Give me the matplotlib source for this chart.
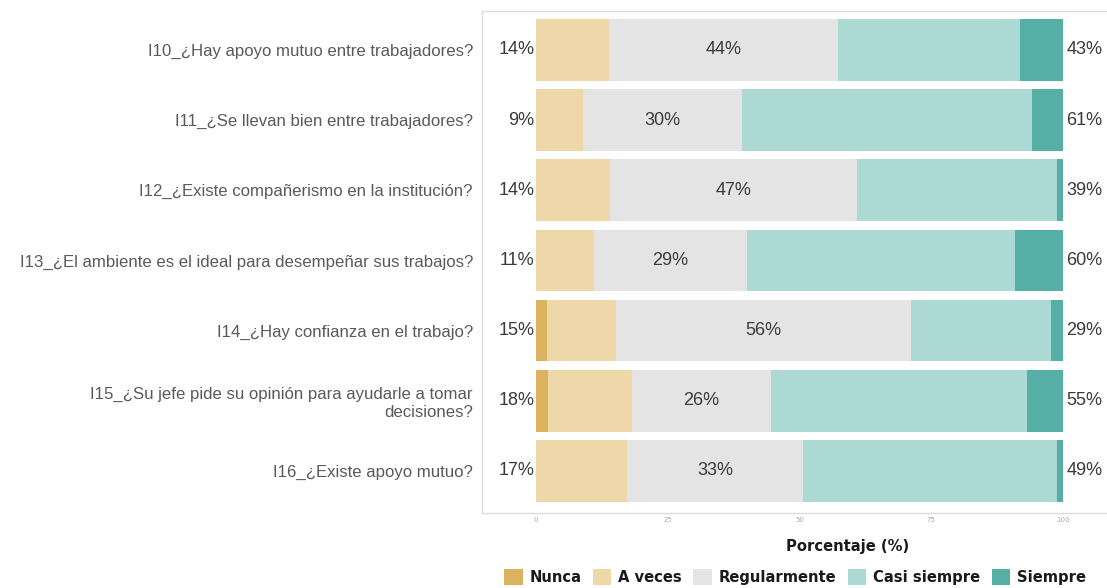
import matplotlib
matplotlib.use("Agg")
import matplotlib.pyplot as plt
from matplotlib.patches import Patch
import numpy as np

categories = [
    "I10_¿Hay apoyo mutuo entre trabajadores?",
    "I11_¿Se llevan bien entre trabajadores?",
    "I12_¿Existe compañerismo en la institución?",
    "I13_¿El ambiente es el ideal para desempeñar sus trabajos?",
    "I14_¿Hay confianza en el trabajo?",
    "I15_¿Su jefe pide su opinión para ayudarle a tomar\ndecisiones?",
    "I16_¿Existe apoyo mutuo?",
]
levels = ["Nunca", "A veces", "Regularmente", "Casi siempre", "Siempre"]
nunca        = [0.0, 0.0, 0.0, 0.0, 2.1, 2.2, 0.0]
a_veces      = [13.8, 9.0, 14.0, 11.0, 13.0, 16.0, 17.3]
regularmente = [43.6, 30.0, 47.0, 29.0, 56.0, 26.4, 33.4]
casi_siempre = [34.4, 55.2, 37.9, 50.8, 26.6, 48.5, 48.2]
siempre      = [8.2, 5.8, 1.1, 9.2, 2.3, 6.9, 1.1]
x_ticks = [0, 25, 50, 75, 100]

colors = ["#dbb35f", "#eed8aa", "#e4e4e4", "#acd9d4", "#56afa4"]

W, H = 1107, 588
fig = plt.figure(figsize=(W / 100, H / 100), dpi=100)
ax = fig.add_axes([482 / W, 1 - 513 / H, (W - 482) / W, (513 - 11) / H])

series = [nunca, a_veces, regularmente, casi_siempre, siempre]
n = len(categories)
y = np.arange(n)[::-1]
left = np.zeros(n)
for vals, col, lab in zip(series, colors, levels):
    v = np.array(vals)
    ax.barh(y, v, left=left, height=0.88, color=col, label=lab, linewidth=0)
    left += v

low = np.array(nunca) + np.array(a_veces)
mid = np.array(regularmente)
high = np.array(casi_siempre) + np.array(siempre)
tc = "#3a3a3a"
for i in range(n):
    ax.text(-0.3, y[i], f"{round(low[i])}%", ha="right", va="center",
            fontsize=13, color=tc, family="Liberation Sans")
    ax.text(low[i] + mid[i] / 2, y[i], f"{round(mid[i])}%", ha="center",
            va="center", fontsize=13, color=tc, family="Liberation Sans")
    ax.text(100.6, y[i], f"{round(high[i])}%", ha="left", va="center",
            fontsize=13, color=tc, family="Liberation Sans")

ax.set_xlim((482 - 536) / 5.27, (W - 536) / 5.27)
ax.set_ylim(-0.6, 6.555)
ax.set_yticks(y)
ax.set_yticklabels(categories, fontsize=12.05, color="#5a5a5a",
                   family="Liberation Sans", ha="right")
ax.set_xticks(x_ticks)
ax.set_xticklabels([str(t) for t in x_ticks], fontsize=5, color="#aaaaaa")
ax.tick_params(axis="y", length=0, pad=6.5)
ax.tick_params(axis="x", length=0, pad=3)
for s in ["left", "top", "bottom"]:
    ax.spines[s].set_color("#dcdcdc")
    ax.spines[s].set_linewidth(1.0)
ax.spines["right"].set_visible(False)

bold_font = {"family": "DejaVu Sans", "weight": "bold", "size": 10.6}

fig.text(848 / W, 1 - 546 / H, "Porcentaje (%)", ha="center", va="center",
         color="#1a1a1a", fontsize=10.6, fontweight="bold", family="DejaVu Sans")

handles = [Patch(facecolor=c, edgecolor="none", label=l) for c, l in zip(colors, levels)]
leg = fig.legend(handles=handles, loc="center", ncol=5,
                 bbox_to_anchor=(795 / W, 1 - 577 / H), frameon=False,
                 handlelength=1.25, handleheight=1.35, handletextpad=0.45,
                 columnspacing=0.8, borderaxespad=0, borderpad=0,
                 prop=bold_font)
for t in leg.get_texts():
    t.set_color("#1a1a1a")

fig.savefig("out.png", dpi=100, facecolor="white")
